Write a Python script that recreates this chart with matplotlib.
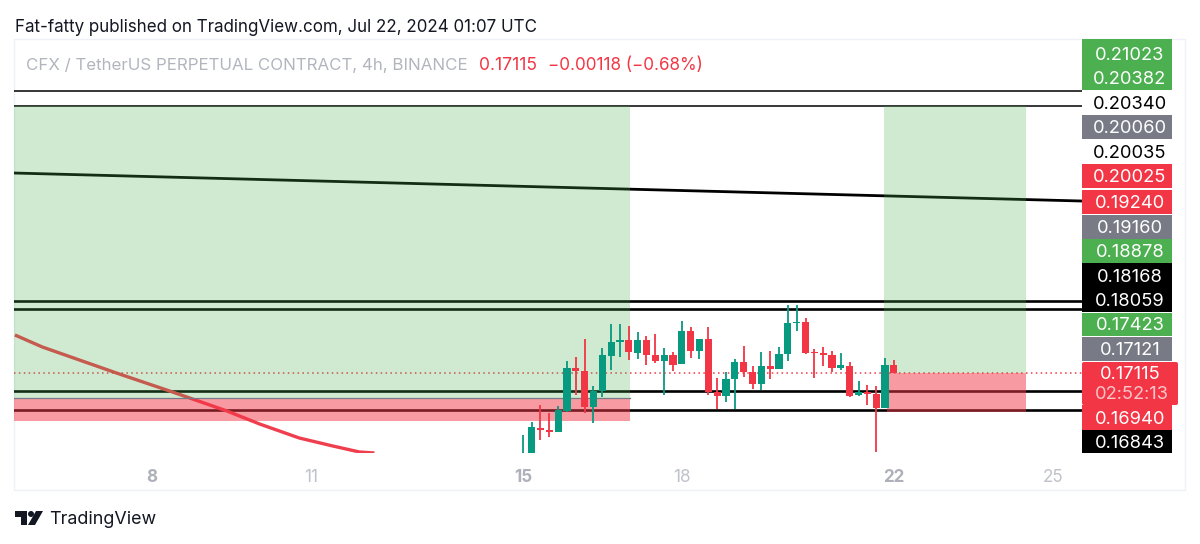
import numpy as np
import matplotlib
matplotlib.use("Agg")
import matplotlib.pyplot as plt
from matplotlib.patches import Rectangle, Polygon, Circle, FancyBboxPatch

plt.rcParams['font.family'] = ['Inter', 'DejaVu Sans']

# candles, 4h bars, index 0 = Jul 15 00:00
opens = [0.15831, 0.15930, 0.16303, 0.16269, 0.16239, 0.16559, 0.17184, 0.17139, 0.16618, 0.16849,
         0.17370, 0.17577, 0.17601, 0.17415, 0.17601, 0.17380, 0.17292, 0.17380, 0.17247, 0.17739,
         0.17444, 0.17621, 0.16839, 0.16775, 0.17026, 0.17282, 0.17134, 0.16957, 0.17223, 0.17169,
         0.17395, 0.17852, 0.17862, 0.17429, 0.17405, 0.17380, 0.17188, 0.17223, 0.16785, 0.16830,
         0.16810, 0.16598, 0.17228]
closes = [0.15905, 0.16313, 0.16269, 0.16239, 0.16569, 0.17184, 0.17139, 0.16608, 0.16849, 0.17375,
          0.17572, 0.17601, 0.17420, 0.17601, 0.17380, 0.17287, 0.17380, 0.17238, 0.17739, 0.17444,
          0.17611, 0.16839, 0.16775, 0.17026, 0.17272, 0.17134, 0.16957, 0.17223, 0.17174, 0.17395,
          0.17852, 0.17867, 0.17415, 0.17405, 0.17385, 0.17193, 0.17228, 0.16780, 0.16830, 0.16810,
          0.16603, 0.17233, 0.17110]
highs = [0.16200, 0.16397, 0.16643, 0.16520, 0.16633, 0.17287, 0.17346, 0.17611, 0.16928, 0.17479,
         0.17833, 0.17833, 0.17808, 0.17715, 0.17665, 0.17685, 0.17479, 0.17429, 0.17882, 0.17798,
         0.17611, 0.17798, 0.17041, 0.17134, 0.17321, 0.17513, 0.17218, 0.17420, 0.17444, 0.17503,
         0.18118, 0.18118, 0.17921, 0.17469, 0.17493, 0.17434, 0.17415, 0.17282, 0.17002, 0.16938,
         0.16923, 0.17341, 0.17306]
lows = [0.15782, 0.15782, 0.16126, 0.16166, 0.16239, 0.16544, 0.16790, 0.16520, 0.16382, 0.16756,
        0.17159, 0.17356, 0.17306, 0.17326, 0.17233, 0.17267, 0.16790, 0.17144, 0.17247, 0.17331,
        0.17326, 0.16790, 0.16579, 0.16692, 0.16579, 0.17051, 0.16874, 0.16864, 0.17031, 0.17169,
        0.17287, 0.17734, 0.17395, 0.17036, 0.17218, 0.17129, 0.17154, 0.16756, 0.16775, 0.16638,
        0.15954, 0.16598, 0.17110]

# drawn levels
hline_prices = [0.21275, 0.21053, 0.18177, 0.18059, 0.16850, 0.16569]
hline_widths = [1.1, 1.1, 1.9, 1.9, 1.9, 1.9]
last_price = 0.17115

trend_x = [-57.6, 63.3]
trend_y = [0.20065, 0.19652]

ma_x = [-57.5, -54.4, -46.0, -40.0, -37.7, -33.5, -29.8, -25.3, -21.5, -18.5, -16.8]
ma_y = [0.17676, 0.17499, 0.17115, 0.16850, 0.16746, 0.16555, 0.16363, 0.16156, 0.16038, 0.15950, 0.15935]

tick_pos = [-42, -24, 0, 18, 42, 60]
tick_txt = ['8', '11', '15', '18', '22', '25']
tick_bold = [True, False, True, False, True, False]

axis_vals = ['0.21023', '0.20382', '0.20340', '0.20060', '0.20035', '0.20025', '0.19240', '0.19160',
             '0.18878', '0.18168', '0.18059', '0.17423', '0.17121', '0.17115', '0.16940', '0.16843']
axis_colors = ['#4caf50', '#4caf50', None, '#787b86', None, '#f23645', '#f23645', '#787b86',
               '#4caf50', '#000000', '#000000', '#4caf50', '#787b86', '#f23645', '#f23645', '#000000']
axis_ypx = [54, 78, 103, 127, 152, 176, 202, 227, 251, 276, 300, 324, 349, 373, 418, 442]

W, H = 1200, 544
fig = plt.figure(figsize=(W / 100, H / 100), dpi=100, facecolor='white')

# pixel layer for the frame and the text around the chart
bg = fig.add_axes([0, 0, 1, 1], zorder=1)
bg.set_xlim(0, W)
bg.set_ylim(H, 0)
bg.axis('off')
bg.add_patch(Rectangle((14, 39), 1171, 451, fc='white', ec='#eff1f6', lw=1))

# chart, x = bar index, y = price
L, R, T, B = 14, 1082, 39, 453
ax = fig.add_axes([L / W, 1 - B / H, (R - L) / W, (B - T) / H], zorder=2)
ax.patch.set_alpha(0)
ax.set_xlim(-57.6, 63.3)
ax.set_ylim(0.15935, 0.22042)
for s in ax.spines.values():
    s.set_visible(False)
ax.set_yticks([])
ax.set_xticks(tick_pos)
ax.set_xticklabels(tick_txt)
ax.tick_params(axis='x', length=0, pad=11.5, labelsize=12.3)
for lab, b in zip(ax.get_xticklabels(), tick_bold):
    lab.set_fontweight('bold' if b else 'normal')
    lab.set_color('#aeb1ba' if b else '#bfc2ca')

for p, w in zip(hline_prices, hline_widths):
    ax.axhline(p, color='black', lw=w, zorder=2)
ax.plot(trend_x, trend_y, color='black', lw=2.0, zorder=2)
ax.plot(ma_x, ma_y, color='#ef3e4e', lw=2.4, zorder=2, solid_capstyle='butt')
ax.axhline(last_price, color='#f23645', lw=1.1, ls=(0, (1, 2.2)), zorder=2)

# position zones, drawn over the lines so these take the tint
green = '#4caf50'
red = '#f23645'
ax.add_patch(Rectangle((-57.6, 0.16746), 69.7, 0.21053 - 0.16746, fc=green, alpha=0.26, lw=0, zorder=3))
ax.add_patch(Rectangle((-57.6, 0.16407), 69.7, 0.16746 - 0.16407, fc=red, alpha=0.5, lw=0, zorder=3))
ax.plot([-57.6, 12.1], [0.16746, 0.16746], color='#787b86', lw=0.9, zorder=3)
ax.add_patch(Rectangle((40.9, 0.17115), 16.1, 0.21053 - 0.17115, fc=green, alpha=0.26, lw=0, zorder=3))
ax.add_patch(Rectangle((41.2, 0.16540), 15.8, 0.17115 - 0.16540, fc=red, alpha=0.5, lw=0, zorder=3))

x = np.arange(len(opens))
o = np.array(opens)
c = np.array(closes)
col = np.where(c >= o, '#089981', '#f23645')
ax.vlines(x, lows, highs, colors=col, lw=1.3, zorder=4)
ax.bar(x, np.maximum(np.abs(c - o), 0.00012), bottom=np.minimum(o, c), width=0.82, color=col, lw=0, zorder=5)

# labels over the chart
ov = fig.add_axes([0, 0, 1, 1], zorder=3)
ov.set_xlim(0, W)
ov.set_ylim(H, 0)
ov.axis('off')
ov.patch.set_alpha(0)

ov.text(15, 27.5, 'Fat-fatty published on TradingView.com, Jul 22, 2024 01:07 UTC', fontsize=12.23,
        color='#131722', va='center', ha='left')
ov.text(26, 65.5, 'CFX / TetherUS PERPETUAL CONTRACT, 4h, BINANCE', fontsize=12.2, color='#b2b5be',
        va='center', ha='left')
ov.text(479, 65.5, '0.17115', fontsize=12.6, color='#f23645', va='center', ha='left')
ov.text(548, 65.5, '\u22120.00118 (\u22120.68%)', fontsize=12.3, color='#f23645', va='center', ha='left')

# price scale boxes
spans = [(39, 90, '#4caf50'), (115, 139, '#787b86'), (164, 188, '#f23645'), (190, 214, '#f23645'),
         (215, 239, '#787b86'), (239, 263, '#4caf50'), (263, 312, '#000000'), (313, 336, '#4caf50'),
         (337, 361, '#787b86'), (405, 430, '#f23645'), (430, 453, '#000000')]
for top, bot, fc in spans:
    ov.add_patch(Rectangle((1082, top), 90, bot - top, fc=fc, lw=0))
ov.add_patch(FancyBboxPatch((1082, 362), 96, 43, boxstyle='round,pad=0,rounding_size=2', fc='#f23645', lw=0))
for s, fc, y in zip(axis_vals, axis_colors, axis_ypx):
    ov.text(1130, y + 1.5, s, fontsize=13.2, color='black' if fc is None else 'white', ha='center', va='center')
ov.text(1132, 394.5, '02:52:13', fontsize=13.2, color='#fbc4c9', ha='center', va='center')

# logo
ov.add_patch(Polygon([(15, 511), (27, 511), (27, 525), (21, 525), (21, 517), (15, 517)], fc='#131722', lw=0))
ov.add_patch(Circle((31, 514), 3, fc='#131722', lw=0))
ov.add_patch(Polygon([(36, 511), (43, 511), (35, 525), (28, 525)], fc='#131722', lw=0))
ov.text(49, 519, 'TradingView', fontsize=12.9, color='#131722', ha='left', va='center')

fig.savefig('out.png', dpi=100, facecolor='white')
